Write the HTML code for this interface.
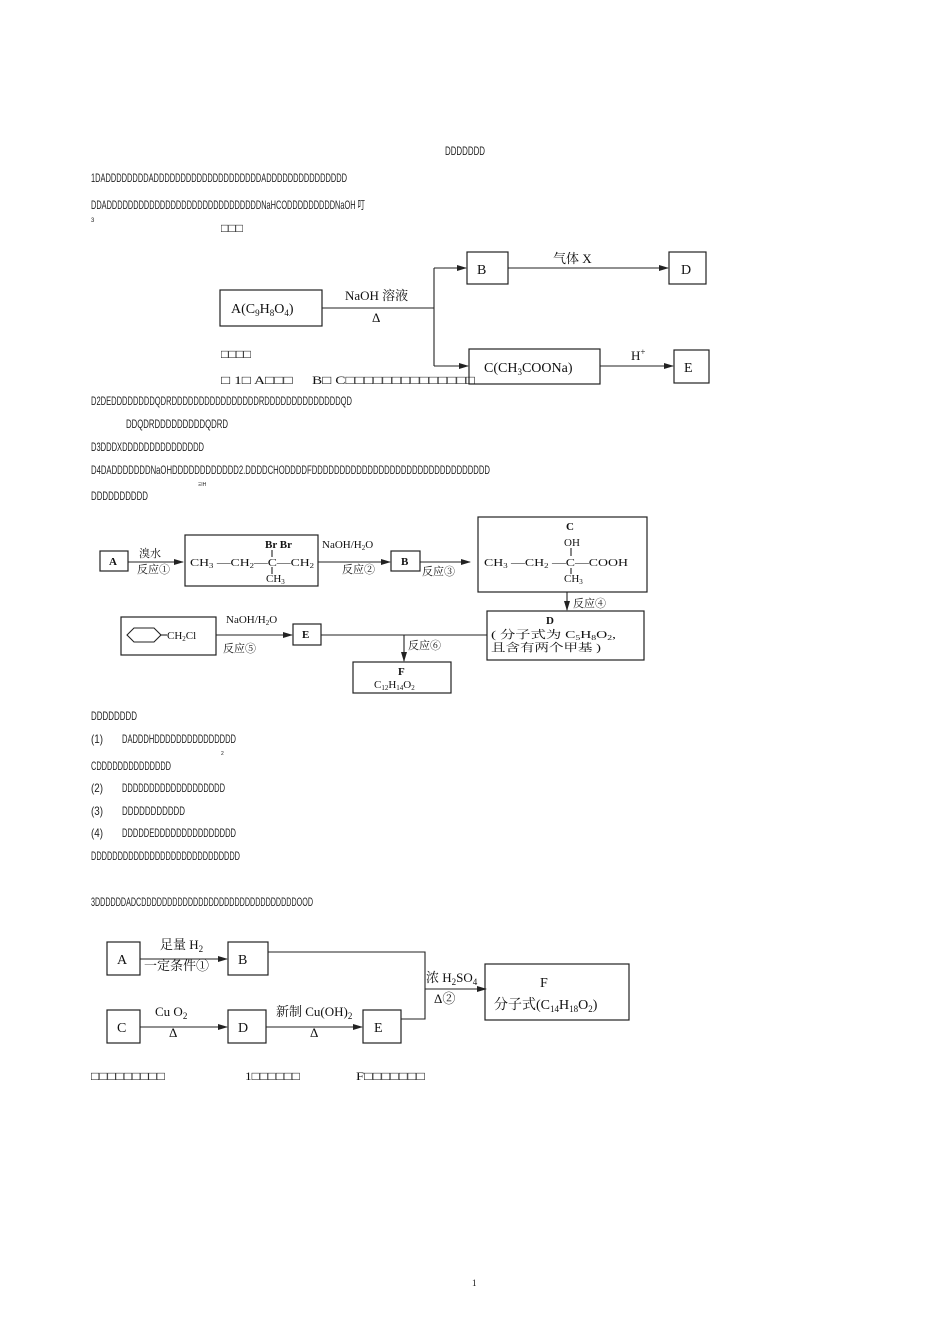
<!DOCTYPE html>
<html><head><meta charset="utf-8"><style>
html,body{margin:0;padding:0;background:#fff;}
svg{display:block;}
.n{font-family:"Liberation Sans","Noto Sans CJK SC",sans-serif;font-size:12px;fill:#222;}
.s{font-family:"Liberation Serif","Noto Serif CJK SC","Noto Sans CJK SC",serif;fill:#111;}
.b{fill:none;stroke:#222;stroke-width:1.2;}
.l{stroke:#222;stroke-width:1.1;fill:none;}
</style></head><body>
<svg width="950" height="1344" viewBox="0 0 950 1344" xmlns="http://www.w3.org/2000/svg">
<defs><marker id="ar" markerWidth="10" markerHeight="8" refX="9" refY="4" orient="auto" markerUnits="userSpaceOnUse"><path d="M0,1 L10,4 L0,7 z" fill="#222"/></marker></defs>

<text class="n" x="445" y="155" textLength="40" lengthAdjust="spacingAndGlyphs">DDDDDDD</text>
<text class="n" x="91" y="182" textLength="256" lengthAdjust="spacingAndGlyphs">1DADDDDDDDDADDDDDDDDDDDDDDDDDDDDADDDDDDDDDDDDDDD</text>
<text class="n" x="91" y="209" textLength="274" lengthAdjust="spacingAndGlyphs">DDADDDDDDDDDDDDDDDDDDDDDDDDDDDDDNaHCODDDDDDDDDNaOH 叮</text>
<text class="n" x="91" y="222" style="font-size:6px">3</text>
<text class="s" x="221" y="232" style="font-size:12px" textLength="22" lengthAdjust="spacingAndGlyphs">□□□</text>

<g class="s" style="font-size:14px">
<rect class="b" x="220" y="290" width="102" height="36"/>
<text x="231" y="313">A(C<tspan font-size="9" dy="3">9</tspan><tspan dy="-3">H</tspan><tspan font-size="9" dy="3">8</tspan><tspan dy="-3">O</tspan><tspan font-size="9" dy="3">4</tspan><tspan dy="-3">)</tspan></text>
<line class="l" x1="322" y1="308" x2="434" y2="308"/>
<text x="345" y="300" style="font-size:13px">NaOH 溶液</text>
<text x="372" y="322" style="font-size:13px">Δ</text>
<line class="l" x1="434" y1="268" x2="434" y2="366"/>
<line class="l" x1="434" y1="268" x2="466" y2="268" marker-end="url(#ar)"/>
<line class="l" x1="434" y1="366" x2="468" y2="366" marker-end="url(#ar)"/>
<rect class="b" x="467" y="252" width="41" height="32"/>
<text x="477" y="274">B</text>
<line class="l" x1="508" y1="268" x2="668" y2="268" marker-end="url(#ar)"/>
<text x="553" y="263" style="font-size:13px">气体 X</text>
<rect class="b" x="669" y="252" width="37" height="32"/>
<text x="681" y="274">D</text>
<rect class="b" x="469" y="349" width="131" height="35"/>
<text x="484" y="372">C(CH<tspan font-size="9" dy="3">3</tspan><tspan dy="-3">COONa)</tspan></text>
<line class="l" x1="600" y1="366" x2="673" y2="366" marker-end="url(#ar)"/>
<text x="631" y="360" style="font-size:13px">H<tspan font-size="9" dy="-5">+</tspan></text>
<rect class="b" x="674" y="350" width="35" height="33"/>
<text x="684" y="372">E</text>
</g>
<text class="s" x="221" y="358" style="font-size:12px" textLength="30" lengthAdjust="spacingAndGlyphs">□□□□</text>
<text class="s" x="221" y="384" style="font-size:12px" textLength="254" lengthAdjust="spacingAndGlyphs">□ 1□ A□□□　  B□ C□□□□□□□□□□□□□□</text>

<text class="n" x="91" y="405" textLength="261" lengthAdjust="spacingAndGlyphs">D2DEDDDDDDDDQDRDDDDDDDDDDDDDDDDRDDDDDDDDDDDDDDQD</text>
<text class="n" x="126" y="428" textLength="102" lengthAdjust="spacingAndGlyphs">DDQDRDDDDDDDDDQDRD</text>
<text class="n" x="91" y="451" textLength="113" lengthAdjust="spacingAndGlyphs">D3DDDXDDDDDDDDDDDDDDD</text>
<text class="n" x="91" y="474" textLength="399" lengthAdjust="spacingAndGlyphs">D4DADDDDDDDNaOHDDDDDDDDDDDD2.DDDDCHODDDDFDDDDDDDDDDDDDDDDDDDDDDDDDDDDDDDD</text>
<text class="n" x="198" y="486" style="font-size:5px">ΞΙΗ</text>
<text class="n" x="91" y="500" textLength="57" lengthAdjust="spacingAndGlyphs">DDDDDDDDDD</text>

<g class="s" style="font-size:11px">
<rect class="b" x="100" y="551" width="28" height="20"/>
<text x="109" y="565" font-weight="bold">A</text>
<line class="l" x1="128" y1="562" x2="183" y2="562" marker-end="url(#ar)"/>
<text x="139" y="557">溴水</text>
<text x="137" y="573">反应①</text>
<rect class="b" x="185" y="535" width="133" height="51"/>
<text x="190" y="566" textLength="124" lengthAdjust="spacingAndGlyphs">CH<tspan font-size="7" dy="2">3</tspan><tspan dy="-2"> —CH</tspan><tspan font-size="7" dy="2">2</tspan><tspan dy="-2">—C—CH</tspan><tspan font-size="7" dy="2">2</tspan></text>
<text x="265" y="548" font-weight="bold">Br  Br</text>
<line class="l" x1="272" y1="550" x2="272" y2="557"/>
<line class="l" x1="272" y1="567" x2="272" y2="574"/>
<text x="266" y="582">CH<tspan font-size="7" dy="2">3</tspan></text>
<line class="l" x1="318" y1="562" x2="390" y2="562" marker-end="url(#ar)"/>
<text x="322" y="548">NaOH/H<tspan font-size="7" dy="2">2</tspan><tspan dy="-2">O</tspan></text>
<text x="342" y="573">反应②</text>
<rect class="b" x="391" y="551" width="29" height="20"/>
<text x="401" y="565" font-weight="bold">B</text>
<line class="l" x1="420" y1="562" x2="470" y2="562" marker-end="url(#ar)"/>
<text x="422" y="575">反应③</text>
<rect class="b" x="478" y="517" width="169" height="75"/>
<text x="566" y="530" font-weight="bold">C</text>
<text x="564" y="546">OH</text>
<line class="l" x1="571" y1="548" x2="571" y2="556"/>
<text x="484" y="566" textLength="144" lengthAdjust="spacingAndGlyphs">CH<tspan font-size="7" dy="2">3</tspan><tspan dy="-2"> —CH</tspan><tspan font-size="7" dy="2">2</tspan><tspan dy="-2"> —C—COOH</tspan></text>
<line class="l" x1="571" y1="568" x2="571" y2="574"/>
<text x="564" y="582">CH<tspan font-size="7" dy="2">3</tspan></text>
<line class="l" x1="567" y1="592" x2="567" y2="610" marker-end="url(#ar)"/>
<text x="573" y="607">反应④</text>
<rect class="b" x="487" y="611" width="157" height="49"/>
<text x="546" y="624" font-weight="bold">D</text>
<text x="491" y="638" textLength="125" lengthAdjust="spacingAndGlyphs">( 分子式为 C<tspan font-size="7" dy="2">5</tspan><tspan dy="-2">H</tspan><tspan font-size="7" dy="2">8</tspan><tspan dy="-2">O</tspan><tspan font-size="7" dy="2">2</tspan><tspan dy="-2">,</tspan></text>
<text x="491" y="651" textLength="110" lengthAdjust="spacingAndGlyphs">且含有两个甲基 )</text>
<rect class="b" x="121" y="617" width="95" height="38"/>
<path class="l" d="M127,635 L134,628 L154,628 L161,635 L154,642 L134,642 Z"/>
<line class="l" x1="161" y1="635" x2="167" y2="635"/>
<text x="167" y="639">CH<tspan font-size="7" dy="2">2</tspan><tspan dy="-2">Cl</tspan></text>
<line class="l" x1="216" y1="635" x2="292" y2="635" marker-end="url(#ar)"/>
<text x="226" y="623">NaOH/H<tspan font-size="7" dy="2">2</tspan><tspan dy="-2">O</tspan></text>
<text x="223" y="652">反应⑤</text>
<rect class="b" x="293" y="624" width="28" height="21"/>
<text x="302" y="638" font-weight="bold">E</text>
<line class="l" x1="321" y1="635" x2="487" y2="635"/>
<line class="l" x1="404" y1="635" x2="404" y2="661" marker-end="url(#ar)"/>
<text x="408" y="649">反应⑥</text>
<rect class="b" x="353" y="662" width="98" height="31"/>
<text x="398" y="675" font-weight="bold">F</text>
<text x="374" y="688">C<tspan font-size="7" dy="2">12</tspan><tspan dy="-2">H</tspan><tspan font-size="7" dy="2">14</tspan><tspan dy="-2">O</tspan><tspan font-size="7" dy="2">2</tspan></text>
</g>

<text class="n" x="91" y="720" textLength="46" lengthAdjust="spacingAndGlyphs">DDDDDDDD</text>
<text class="n" x="91" y="743" textLength="12" lengthAdjust="spacingAndGlyphs">(1)</text>
<text class="n" x="122" y="743" textLength="114" lengthAdjust="spacingAndGlyphs">DADDDHDDDDDDDDDDDDDDD</text>
<text class="n" x="221" y="755" style="font-size:5px">2</text>
<text class="n" x="91" y="770" textLength="80" lengthAdjust="spacingAndGlyphs">CDDDDDDDDDDDDDD</text>
<text class="n" x="91" y="792" textLength="12" lengthAdjust="spacingAndGlyphs">(2)</text>
<text class="n" x="122" y="792" textLength="103" lengthAdjust="spacingAndGlyphs">DDDDDDDDDDDDDDDDDDD</text>
<text class="n" x="91" y="815" textLength="12" lengthAdjust="spacingAndGlyphs">(3)</text>
<text class="n" x="122" y="815" textLength="63" lengthAdjust="spacingAndGlyphs">DDDDDDDDDDD</text>
<text class="n" x="91" y="837" textLength="12" lengthAdjust="spacingAndGlyphs">(4)</text>
<text class="n" x="122" y="837" textLength="114" lengthAdjust="spacingAndGlyphs">DDDDDEDDDDDDDDDDDDDDD</text>
<text class="n" x="91" y="860" textLength="149" lengthAdjust="spacingAndGlyphs">DDDDDDDDDDDDDDDDDDDDDDDDDDDD</text>
<text class="n" x="91" y="906" textLength="222" lengthAdjust="spacingAndGlyphs">3DDDDDDADCDDDDDDDDDDDDDDDDDDDDDDDDDDDDDDOOD</text>

<g class="s" style="font-size:14px">
<rect class="b" x="107" y="942" width="33" height="33"/>
<text x="117" y="964">A</text>
<line class="l" x1="140" y1="959" x2="227" y2="959" marker-end="url(#ar)"/>
<text x="160" y="949" style="font-size:13px">足量 H<tspan font-size="9" dy="3">2</tspan></text>
<text x="144" y="970" style="font-size:13px">一定条件①</text>
<rect class="b" x="228" y="942" width="40" height="33"/>
<text x="238" y="964">B</text>
<polyline class="l" points="268,952 425,952 425,1019 401,1019"/>
<rect class="b" x="107" y="1010" width="33" height="33"/>
<text x="117" y="1032">C</text>
<line class="l" x1="140" y1="1027" x2="227" y2="1027" marker-end="url(#ar)"/>
<text x="155" y="1016" style="font-size:13px">Cu   O<tspan font-size="9" dy="3">2</tspan></text>
<text x="169" y="1037" style="font-size:13px">Δ</text>
<rect class="b" x="228" y="1010" width="38" height="33"/>
<text x="238" y="1032">D</text>
<line class="l" x1="266" y1="1027" x2="362" y2="1027" marker-end="url(#ar)"/>
<text x="276" y="1016" style="font-size:13px">新制 Cu(OH)<tspan font-size="9" dy="3">2</tspan></text>
<text x="310" y="1037" style="font-size:13px">Δ</text>
<rect class="b" x="363" y="1010" width="38" height="33"/>
<text x="374" y="1032">E</text>
<line class="l" x1="425" y1="989" x2="486" y2="989" marker-end="url(#ar)"/>
<text x="426" y="982" style="font-size:13px">浓 H<tspan font-size="9" dy="3">2</tspan><tspan dy="-3">SO</tspan><tspan font-size="9" dy="3">4</tspan></text>
<text x="434" y="1003" style="font-size:13px">Δ②</text>
<rect class="b" x="485" y="964" width="144" height="56"/>
<text x="540" y="987">F</text>
<text x="494" y="1009">分子式(C<tspan font-size="9" dy="3">14</tspan><tspan dy="-3">H</tspan><tspan font-size="9" dy="3">18</tspan><tspan dy="-3">O</tspan><tspan font-size="9" dy="3">2</tspan><tspan dy="-3">)</tspan></text>
</g>
<text class="s" x="91" y="1080" style="font-size:12px" textLength="74" lengthAdjust="spacingAndGlyphs">□□□□□□□□□</text>
<text class="s" x="245" y="1080" style="font-size:12px" textLength="55" lengthAdjust="spacingAndGlyphs">1□□□□□□</text>
<text class="s" x="356" y="1080" style="font-size:12px" textLength="69" lengthAdjust="spacingAndGlyphs">F□□□□□□□</text>
<text class="s" x="472" y="1286" style="font-size:9px">1</text>
</svg>
</body></html>
